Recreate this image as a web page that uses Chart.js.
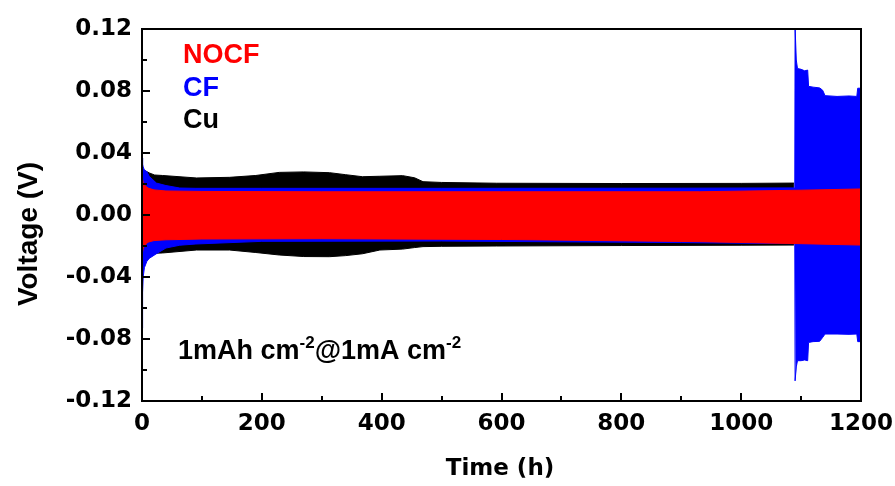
<!DOCTYPE html>
<html>
<head>
<meta charset="utf-8">
<script src="https://cdn.jsdelivr.net/npm/chart.js@4.4.1/dist/chart.umd.min.js"></script>
<style>
  html, body { margin: 0; padding: 0; background: #fff; }
  #wrap { width: 895px; height: 486px; position: relative; }
</style>
</head>
<body>
<div id="wrap"><canvas id="voltageChart" width="895" height="486"></canvas></div>
<script>
// --- data: voltage envelopes (upper / lower) vs. cycling time ---
const X_TICKS = [0, 200, 400, 600, 800, 1000, 1200];
const Y_TICKS = [-0.12, -0.08, -0.04, 0.00, 0.04, 0.08, 0.12];

// NOCF (red)
const nocfTime  = [0, 2, 5, 10, 20, 40, 100, 300, 600, 930, 1100, 1200];
const nocfUpper = [0.0247, 0.021, 0.019, 0.0174, 0.0162, 0.0155, 0.0152, 0.015, 0.015, 0.015, 0.016, 0.0168];
const nocfLower = [-0.0258, -0.0215, -0.0195, -0.0175, -0.0165, -0.016, -0.0155, -0.0153, -0.0158, -0.0172, -0.0185, -0.0194];

// CF (blue)
const cfTime  = [0, 1, 2, 4, 8, 12, 24, 40, 63, 90, 200, 500, 900, 1088, 1089.5,
                 1090, 1091, 1092, 1094, 1100, 1106, 1111, 1112.5, 1120, 1131, 1136, 1140, 1160, 1180, 1193, 1194.5, 1200];
const cfUpper = [0.0368, 0.033, 0.031, 0.029, 0.028, 0.025, 0.0206, 0.019, 0.0174, 0.0172, 0.0172, 0.0172, 0.0173, 0.0175, 0.0175,
                 0.121, 0.121, 0.10, 0.0945, 0.094, 0.093, 0.0935, 0.083, 0.0825, 0.082, 0.0805, 0.077, 0.0765, 0.0768, 0.0765, 0.0818, 0.0818];
const cfLower = [-0.073, -0.05, -0.04, -0.034, -0.030, -0.028, -0.025, -0.0213, -0.0195, -0.0187, -0.017, -0.0168, -0.0178, -0.0185, -0.0185,
                 -0.107, -0.107, -0.098, -0.094, -0.094, -0.0935, -0.094, -0.0822, -0.0817, -0.0815, -0.079, -0.0768, -0.0768, -0.077, -0.0768, -0.0817, -0.0817];

// Cu (black)
const cuTime  = [0, 3, 13, 21, 34, 91, 146, 190, 229, 270, 313, 340, 368, 397, 435, 455, 469, 500, 592, 800, 1000, 1088];
const cuUpper = [0.029, 0.029, 0.027, 0.0258, 0.0255, 0.0239, 0.0243, 0.0255, 0.0275, 0.0278, 0.0273, 0.026, 0.0247, 0.025, 0.0254, 0.024, 0.0215, 0.021, 0.0205, 0.0203, 0.0204, 0.0206];
const cuLower = [-0.027, -0.026, -0.025, -0.0247, -0.0245, -0.0226, -0.0226, -0.0242, -0.0258, -0.0268, -0.0269, -0.0262, -0.025, -0.0226, -0.022, -0.021, -0.0204, -0.0202, -0.02, -0.0197, -0.0195, -0.0194];

const SERIES = [
  { name: 'NOCF', color: '#ff0000', time: nocfTime, upper: nocfUpper, lower: nocfLower },
  { name: 'CF',   color: '#0000ff', time: cfTime,   upper: cfUpper,   lower: cfLower },
  { name: 'Cu',   color: '#000000', time: cuTime,   upper: cuUpper,   lower: cuLower }
];

const toPoints = (t, v) => t.map((x, i) => ({ x: x, y: v[i] }));

// each series = upper line filled down to its lower line; first series sits on top
const datasets = [];
SERIES.forEach(s => {
  datasets.push({
    label: s.name,
    data: toPoints(s.time, s.upper),
    borderColor: s.color,
    backgroundColor: s.color,
    borderWidth: 1,
    pointRadius: 0,
    tension: 0,
    fill: '+1'
  });
  datasets.push({
    label: s.name + ' lower',
    data: toPoints(s.time, s.lower),
    borderColor: s.color,
    borderWidth: 1,
    pointRadius: 0,
    tension: 0,
    fill: false
  });
});

const TICK_FONT = { family: 'DejaVu Sans', weight: 'bold', size: 23 };

// frame + inward tick marks
const framePlugin = {
  id: 'frame',
  afterDatasetsDraw(chart) {
    const { ctx, chartArea: a, scales: { x, y } } = chart;
    ctx.save();
    ctx.strokeStyle = '#000';
    ctx.lineWidth = 2;
    ctx.beginPath();
    // bottom axis: major every 200, minor every 100
    for (let v = 0; v <= 1200; v += 100) {
      const px = Math.round(x.getPixelForValue(v));
      const len = v % 200 === 0 ? 8 : 5;
      ctx.moveTo(px, a.bottom);
      ctx.lineTo(px, a.bottom - len);
    }
    // left axis: major every 0.04, minor every 0.02
    for (let i = -6; i <= 6; i++) {
      const py = Math.round(y.getPixelForValue(i * 0.02));
      const len = i % 2 === 0 ? 8 : 5;
      ctx.moveTo(a.left, py);
      ctx.lineTo(a.left + len, py);
    }
    ctx.stroke();
    ctx.strokeRect(a.left, a.top, a.right - a.left, a.bottom - a.top);
    ctx.restore();
  }
};

// axis titles, series labels and the current-density note
const textPlugin = {
  id: 'texts',
  afterDraw(chart) {
    const { ctx } = chart;
    ctx.save();
    ctx.fillStyle = '#000';

    // x title
    ctx.font = 'bold 23px "DejaVu Sans"';
    ctx.textAlign = 'center';
    ctx.textBaseline = 'alphabetic';
    ctx.fillText('Time (h)', 500, 475);

    // y title
    ctx.save();
    ctx.translate(37, 234);
    ctx.rotate(-Math.PI / 2);
    ctx.font = 'bold 28px "Liberation Sans"';
    ctx.fillText('Voltage (V)', 0, 0);
    ctx.restore();

    // series labels
    ctx.textAlign = 'left';
    ctx.font = 'bold 27px "Liberation Sans"';
    const baselines = [63, 96, 128];
    SERIES.forEach((s, i) => {
      ctx.fillStyle = s.color;
      ctx.fillText(s.name, 183, baselines[i]);
    });

    // 1mAh cm^-2 @ 1mA cm^-2
    ctx.fillStyle = '#000';
    const parts = [
      ['1mAh cm', false], ['-2', true], ['@1mA cm', false], ['-2', true]
    ];
    let cx = 178;
    parts.forEach(([txt, sup]) => {
      ctx.font = sup ? 'bold 17px "Liberation Sans"' : 'bold 27px "Liberation Sans"';
      ctx.fillText(txt, cx, sup ? 348 : 359);
      cx += ctx.measureText(txt).width;
    });
    ctx.restore();
  }
};

new Chart(document.getElementById('voltageChart'), {
  type: 'line',
  data: { datasets: datasets },
  options: {
    responsive: false,
    animation: false,
    events: [],
    layout: { padding: { left: 0, top: 29, right: 34, bottom: 0 } },
    plugins: {
      legend: { display: false },
      tooltip: { enabled: false },
      filler: { propagate: false }
    },
    scales: {
      x: {
        type: 'linear',
        min: 0,
        max: 1200,
        afterFit: s => { s.height = 85; s.paddingLeft = 0; s.paddingRight = 0; },
        afterBuildTicks: s => { s.ticks = X_TICKS.map(v => ({ value: v })); },
        grid: { display: false, drawTicks: false },
        border: { display: false },
        ticks: { color: '#000', font: TICK_FONT, padding: 9, maxRotation: 0, callback: v => String(v) }
      },
      y: {
        type: 'linear',
        min: -0.12,
        max: 0.12,
        afterFit: s => { s.width = 142; s.paddingTop = 0; s.paddingBottom = 0; },
        afterBuildTicks: s => { s.ticks = Y_TICKS.map(v => ({ value: v })); },
        grid: { display: false, drawTicks: false },
        border: { display: false },
        ticks: {
          color: '#000',
          font: TICK_FONT,
          padding: 10,
          callback: v => v.toFixed(2)
        }
      }
    }
  },
  plugins: [framePlugin, textPlugin]
});
</script>
</body>
</html>
